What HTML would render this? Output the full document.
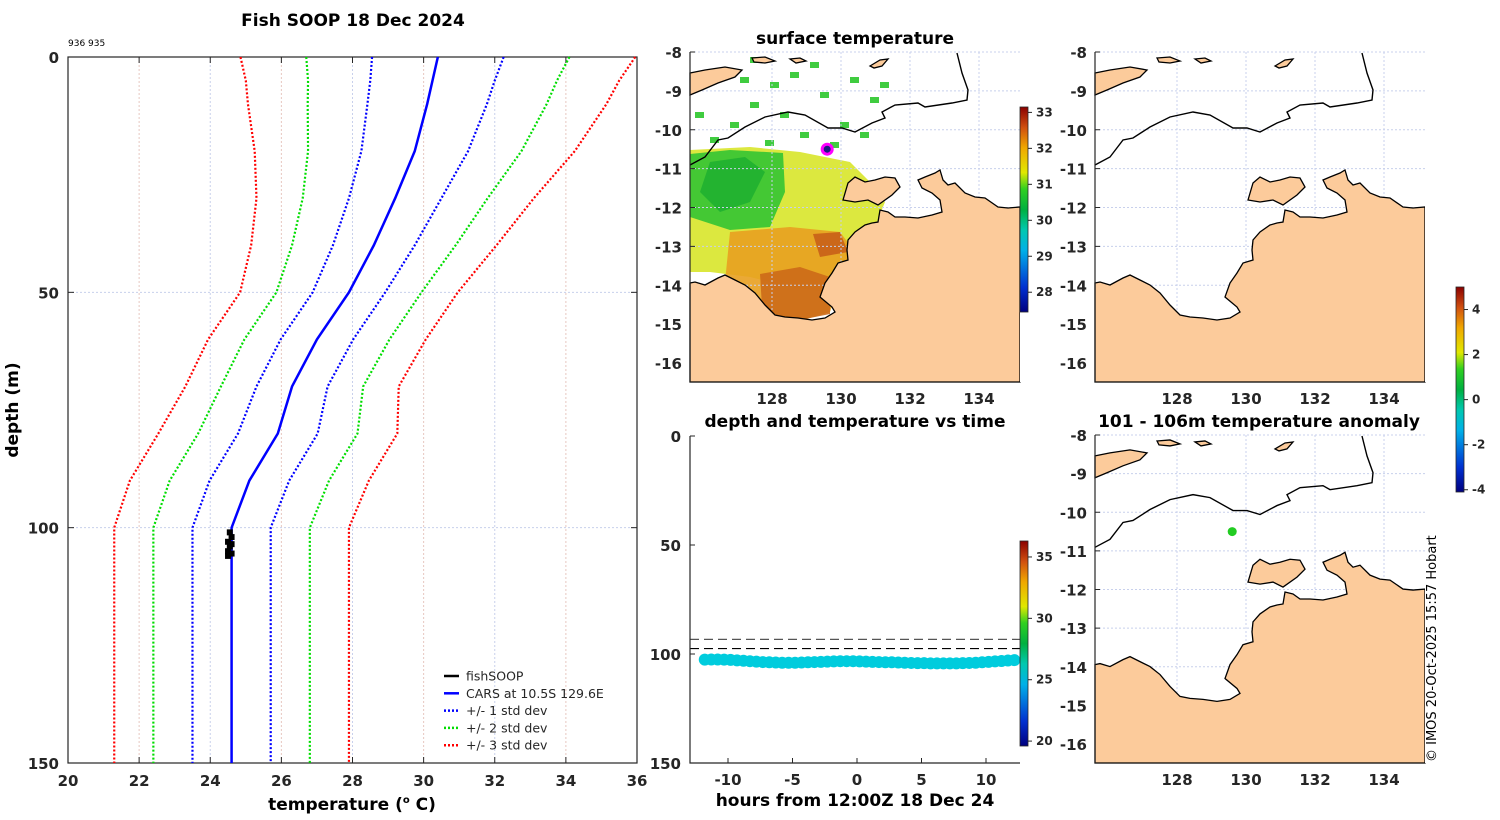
<!DOCTYPE html>
<html><head><meta charset="utf-8">
<style>
html,body{margin:0;padding:0;background:#fff;}
svg{display:block;font-family:"DejaVu Sans","Liberation Sans",sans-serif;}
.tk{font-size:15px;font-weight:bold;fill:#262626;}
.tt{font-size:17px;font-weight:bold;fill:#000;}
.cb{font-size:12px;font-weight:bold;fill:#262626;}
.lg{font-size:12.5px;fill:#262626;}
</style></head>
<body>
<svg id="fig" width="1500" height="820" viewBox="0 0 1500 820" xmlns="http://www.w3.org/2000/svg">
<defs>
<linearGradient id="jet" x1="0" y1="1" x2="0" y2="0">
<stop offset="0" stop-color="#00007f"/><stop offset="0.12" stop-color="#0030d0"/><stop offset="0.3" stop-color="#00b0e8"/><stop offset="0.4" stop-color="#00c8b0"/><stop offset="0.5" stop-color="#00b040"/><stop offset="0.6" stop-color="#30d020"/><stop offset="0.68" stop-color="#e0e800"/><stop offset="0.8" stop-color="#f0a800"/><stop offset="0.9" stop-color="#d05010"/><stop offset="1" stop-color="#8b0000"/>
</linearGradient>
</defs>
<g id="left"></g>
<g id="sst"></g>
<g id="dt"></g>
<g id="mapr"></g>
<g id="anom"></g>
<text x="1436" y="762" transform="rotate(-90 1436 762)" font-size="13" fill="#000">© IMOS 20-Oct-2025 15:57 Hobart</text>
</svg>
<script>
// ---- profile data ----
const profDepths=[0,5,10,20,30,40,50,60,70,80,90,100,150];
const carsMean=[30.4,30.25,30.1,29.75,29.2,28.6,27.9,27.0,26.3,25.9,25.1,24.6,24.6];
const carsStd=[1.85,1.75,1.68,1.5,1.3,1.15,1.02,1.02,1.0,1.12,1.12,1.1,1.1];
const fishTemps=[24.55,24.6,24.5,24.6,24.55,24.5,24.6,24.5];
const fishDepths=[101,102,103,103.5,104,105,105.5,106];
const tempTicks=[20,22,24,26,28,30,32,34,36];
const depthTicks=[0,50,100,150];
// ---- depth vs time data ----
const dtHours=[-11.8,-11.3,-10.8,-10.3,-9.8,-9.3,-8.8,-8.3,-7.8,-7.3,-6.8,-6.3,-5.8,-5.3,-4.8,-4.3,-3.8,-3.3,-2.8,-2.3,-1.8,-1.3,-0.8,-0.3,0.2,0.7,1.2,1.7,2.2,2.7,3.2,3.7,4.2,4.7,5.2,5.7,6.2,6.7,7.2,7.7,8.2,8.7,9.2,9.7,10.2,10.7,11.2,11.7,12.2];
const dtDepths=[102.6,102.5,102.5,102.6,102.7,102.9,103.1,103.3,103.5,103.7,103.8,103.9,104.0,104.0,104.0,103.9,103.8,103.7,103.6,103.5,103.4,103.3,103.3,103.3,103.4,103.5,103.6,103.7,103.8,103.8,103.9,104.0,104.1,104.2,104.2,104.3,104.3,104.3,104.3,104.3,104.2,104.1,104.0,103.8,103.6,103.4,103.2,103.0,102.8];
const dtRefDepths=[93.3,97.5];
const hourTicks=[-10,-5,0,5,10];
const dtDepthTicks=[0,50,100,150];
const lonTicks=[128,130,132,134];
const latTicks=[-8,-9,-10,-11,-12,-13,-14,-15,-16];

const NS="http://www.w3.org/2000/svg";
function mk(parent,tag,attrs,txt){const e=document.createElementNS(NS,tag);for(const k in attrs)e.setAttribute(k,attrs[k]);if(txt!==undefined)e.textContent=txt;parent.appendChild(e);return e;}

// ===== LEFT PROFILE =====
(function(){
const g=document.getElementById('left');
const L=68,R=637,T=57,B=763;
const x=t=>L+(t-20)/16*(R-L), y=d=>T+d/150*(B-T);
tempTicks.forEach((t,i)=>{
 if(t>20&&t<36){const l=mk(g,'line',{x1:x(t),x2:x(t),y1:T,y2:B,stroke:i%2?'#e8c8c0':'#c8d0ec','stroke-dasharray':'2 2','stroke-width':1});
 }
 const tl=mk(g,'text',{x:x(t),y:B+23,'text-anchor':'middle',class:'tk'},t);
 
 mk(g,'line',{x1:x(t),x2:x(t),y1:B,y2:B-6,stroke:'#262626'});
 mk(g,'line',{x1:x(t),x2:x(t),y1:T,y2:T+6,stroke:'#262626'});
});
depthTicks.forEach(d=>{
 if(d>0&&d<150){const l=mk(g,'line',{x1:L,x2:R,y1:y(d),y2:y(d),stroke:'#c8d0ec','stroke-dasharray':'2 2'});
 }
 const tl=mk(g,'text',{x:L-9,y:y(d)+6,'text-anchor':'end',class:'tk'},d);
 
 mk(g,'line',{x1:L,x2:L+6,y1:y(d),y2:y(d),stroke:'#262626'});
 mk(g,'line',{x1:R,x2:R-6,y1:y(d),y2:y(d),stroke:'#262626'});
});
const box=mk(g,'rect',{x:L,y:T,width:R-L,height:B-T,fill:'none',stroke:'#262626','stroke-width':1.2});

const cols=['#0000ff','#00dd00','#ff0000'];
[1,2,3].forEach(k=>{[-1,1].forEach(s=>{
 const pts=profDepths.map((d,i)=>x(carsMean[i]+s*k*carsStd[i])+','+y(d)).join(' ');
 const p=mk(g,'polyline',{points:pts,fill:'none',stroke:cols[k-1],'stroke-width':2.2,'stroke-dasharray':'2 2'});
 
});});
const m=mk(g,'polyline',{points:profDepths.map((d,i)=>x(carsMean[i])+','+y(d)).join(' '),fill:'none',stroke:'#0000ff','stroke-width':2.5});

fishTemps.forEach((t,i)=>{const c=mk(g,'rect',{x:x(t)-3,y:y(fishDepths[i])-3,width:6,height:6,fill:'#000'});
 });
const tt=mk(g,'text',{x:353,y:26,'text-anchor':'middle',class:'tt'},'Fish SOOP 18 Dec 2024');

const id=mk(g,'text',{x:68,y:46,'font-size':9,fill:'#000'},'936 935');

const xt=mk(g,'text',{x:352,y:810,'text-anchor':'middle',class:'tt'},'temperature (');

mk(xt,'tspan',{'font-size':10,dy:-7},'o');mk(xt,'tspan',{dy:7},' C)');
const yt=mk(g,'text',{x:18,y:410,'text-anchor':'middle',class:'tt',transform:'rotate(-90 18 410)'},'depth (m)');

const leg=[['fishSOOP','#000',''],['CARS at 10.5S 129.6E','#0000ff',''],['+/- 1 std dev','#0000ff','2 2'],['+/- 2 std dev','#00dd00','2 2'],['+/- 3 std dev','#ff0000','2 2']];
leg.forEach((e,i)=>{const yy=676+i*17.3;
 const ln=mk(g,'line',{x1:444,x2:459,y1:yy,y2:yy,stroke:e[1],'stroke-width':2.5,'stroke-dasharray':e[2]||'none'});
 
 const tx=mk(g,'text',{x:466,y:yy+4.5,class:'lg'},e[0]);
 });
})();

// ===== MAPS =====
const mainland=[[0,231],[5,230],[15,233],[28,226],[35,223],[45,228],[55,233],[65,241],[75,253],[85,263],[95,265],[108,266],[122,268],[135,266],[145,260],[142,255],[130,245],[135,231],[142,221],[148,211],[158,208],[157,198],[158,188],[165,180],[175,173],[182,171],[188,170],[190,158],[198,160],[205,165],[215,165],[228,166],[242,163],[252,160],[250,148],[242,141],[232,136],[228,128],[235,125],[245,121],[250,118],[253,128],[258,133],[265,131],[275,141],[285,145],[295,146],[308,155],[318,156],[330,155],[330,330],[0,330]];
const melville=[[153,148],[158,131],[165,125],[175,130],[185,128],[195,125],[205,126],[210,135],[202,143],[188,153],[178,148],[165,150],[153,148]];
const timor=[[0,21],[15,18],[35,15],[52,18],[45,25],[28,31],[12,38],[0,43]];
const smallIs=[[[62,6],[75,5],[85,9],[75,11],[64,10]],[[100,7],[110,6],[116,9],[106,11]],[[180,14],[190,8],[198,7],[192,14],[184,16]]];
const contour=[[0,113],[15,105],[28,88],[38,86],[55,75],[75,65],[98,60],[115,63],[138,76],[152,76],[165,80],[182,71],[195,66],[192,60],[205,53],[228,51],[235,55],[262,51],[277,48],[278,38],[272,21],[267,1]];
const ptsStr=(a,ox,oy,sy)=>a.map(p=>(ox+p[0])+','+(oy+p[1]*sy)).join(' ');
function drawMap(g,ox,oy,H,sst){
 const W=330,sy=H/330;
 const lon=l=>ox+82+(l-128)*34.5, lat=a=>oy+(-8-a)*(H-19)/8;
 if(sst){
  const regs=[
   [[[0,98],[60,95],[110,100],[160,110],[180,130],[195,150],[185,175],[165,200],[150,225],[140,240],[100,235],[60,225],[20,220],[0,220]],'#d8e62a'],
   [[[0,102],[40,98],[93,101],[95,140],[80,175],[40,178],[0,165]],'#33c433'],
   [[[20,110],[55,105],[75,120],[60,150],[30,160],[10,140]],'#20b030'],
   [[[40,180],[100,175],[150,180],[165,200],[150,230],[140,260],[100,272],[60,260],[35,230]],'#e8a020'],
   [[[70,222],[110,215],[140,225],[140,262],[100,270],[72,255]],'#cc6a18'],
   [[[123,182],[150,180],[158,200],[130,205]],'#c86018']];
  regs.forEach(r=>{const p=mk(g,'polygon',{points:ptsStr(r[0],ox,oy,sy),fill:r[1],opacity:0.9});
   });
  [[15,20],[50,25],[80,30],[60,50],[100,20],[130,40],[160,25],[180,45],[90,60],[40,70],[150,70],[110,80],[20,85],[170,80],[60,5],[120,10],[190,30],[5,60],[140,90],[75,88]].forEach(q=>{
   const s=mk(g,'rect',{x:ox+q[0],y:oy+q[1]*sy,width:9,height:6,fill:'#40cc40'});
   });
 }
 lonTicks.forEach(l=>{const gl=mk(g,'line',{x1:lon(l),x2:lon(l),y1:oy,y2:oy+H,stroke:'#c8d0ec','stroke-dasharray':'2 2'});
  
  const tl=mk(g,'text',{x:lon(l),y:oy+H+22,'text-anchor':'middle',class:'tk'},l);
  });
 latTicks.forEach(a=>{const gl=mk(g,'line',{x1:ox,x2:ox+W,y1:lat(a),y2:lat(a),stroke:'#c8d0ec','stroke-dasharray':'2 2'});
  
  mk(g,'line',{x1:ox,x2:ox+5,y1:lat(a),y2:lat(a),stroke:'#262626'});
  const tl=mk(g,'text',{x:ox-8,y:lat(a)+6,'text-anchor':'end',class:'tk'},a);
  });
 [[mainland,'mainland'],[melville,'island'],[timor,'timor']].concat(smallIs.map(s=>[s,'small-island'])).forEach(s=>{
  const p=mk(g,'polygon',{points:ptsStr(s[0],ox,oy,sy),fill:'#fccb9b',stroke:'#000','stroke-width':1.3});
  });
 mk(g,'rect',{x:ox+330,y:oy,width:2,height:H,fill:'#fff'});
 const c=mk(g,'polyline',{points:ptsStr(contour,ox,oy,sy),fill:'none',stroke:'#000','stroke-width':1.4});
 
 const ax=mk(g,'line',{x1:ox,x2:ox,y1:oy,y2:oy+H,stroke:'#262626','stroke-width':1.2});
 
 return {lon,lat};
}
function colorbar(g,x,y1,y2,ticks,vmin,vmax){
 const r=mk(g,'rect',{x:x,y:y1,width:8,height:y2-y1,fill:'url(#jet)',stroke:'#262626','stroke-width':0.8});
 
 ticks.forEach(t=>{const yy=y2-(t-vmin)/(vmax-vmin)*(y2-y1);
  mk(g,'line',{x1:x+8,x2:x+12,y1:yy,y2:yy,stroke:'#262626'});
  const tl=mk(g,'text',{x:x+16,y:yy+4,class:'cb'},t);
  });
}
(function(){
 const g=document.getElementById('sst');
 const m=drawMap(g,690,52,330,true);
 const d=mk(g,'circle',{cx:m.lon(129.6),cy:m.lat(-10.5),r:5,fill:'#1a1a80',stroke:'#ff00ff','stroke-width':3});
 
 const t=mk(g,'text',{x:855,y:44,'text-anchor':'middle',class:'tt'},'surface temperature');
 
 colorbar(g,1020,107,312,[28,29,30,31,32,33],27.45,33.15);
 const g2=document.getElementById('mapr');
 drawMap(g2,1095,52,330,false);
 colorbar(g2,1456,287,492,[-4,-2,0,2,4],-4.1,5.0);
 const g3=document.getElementById('anom');
 const m3=drawMap(g3,1095,435,328,false);
 const d3=mk(g3,'circle',{cx:m3.lon(129.6),cy:m3.lat(-10.5),r:4.5,fill:'#22cc22'});
 
 const t3=mk(g3,'text',{x:1259,y:427,'text-anchor':'middle',class:'tt'},'101 - 106m temperature anomaly');
 
})();

// ===== DEPTH VS TIME =====
(function(){
 const g=document.getElementById('dt');
 const L=690,R=1020,T=436,B=763;
 const x=h=>857+h*12.9, y=d=>T+d/150*(B-T);
 dtRefDepths.forEach((d,i)=>{const l=mk(g,'line',{x1:L,x2:R,y1:y(d),y2:y(d),stroke:i?'#000':'#555','stroke-width':1.2,'stroke-dasharray':'9 5'});
  });
 dtHours.forEach((h,i)=>{const c=mk(g,'circle',{cx:x(h),cy:y(dtDepths[i]),r:6,fill:'#00ccdd'});
  });
 hourTicks.forEach(h=>{mk(g,'line',{x1:x(h),x2:x(h),y1:B,y2:B-5,stroke:'#262626'});
  const tl=mk(g,'text',{x:x(h),y:B+22,'text-anchor':'middle',class:'tk'},h);
  });
 dtDepthTicks.forEach(d=>{mk(g,'line',{x1:L,x2:L+5,y1:y(d),y2:y(d),stroke:'#262626'});
  const tl=mk(g,'text',{x:L-9,y:y(d)+6,'text-anchor':'end',class:'tk'},d);
  });
 const ax=mk(g,'polyline',{points:`${L},${T} ${L},${B} ${R},${B}`,fill:'none',stroke:'#262626','stroke-width':1.2});
 
 const t=mk(g,'text',{x:855,y:427,'text-anchor':'middle',class:'tt'},'depth and temperature vs time');
 
 const xt=mk(g,'text',{x:855,y:806,'text-anchor':'middle',class:'tt'},'hours from 12:00Z 18 Dec 24');
 
 colorbar(g,1020,541,746,[20,25,30,35],19.6,36.3);
})();
</script>
</body></html>
